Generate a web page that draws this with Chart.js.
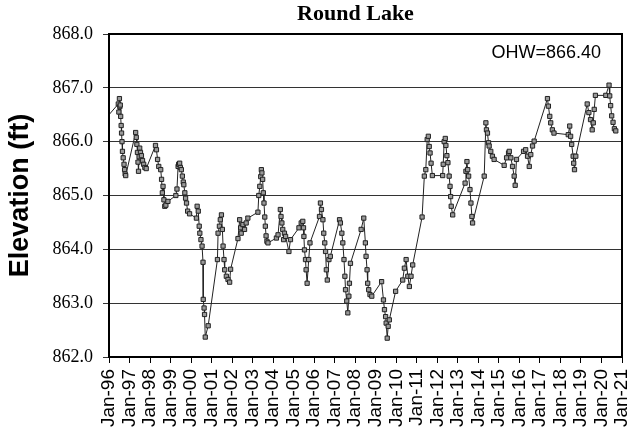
<!DOCTYPE html>
<html>
<head>
<meta charset="utf-8">
<script src="https://cdn.jsdelivr.net/npm/chart.js@4.4.1/dist/chart.umd.min.js"></script>
<style>
  html, body { margin: 0; padding: 0; background: #fff; }
  #wrap { width: 635px; height: 436px; position: relative; }
</style>
</head>
<body>
<div id="wrap"><canvas id="lake"></canvas></div>
<script>
const dates = [
  '1995-10-01',
  '1996-06-15','1996-06-25','1996-07-05','1996-07-12','1996-07-20','1996-07-27','1996-08-05','1996-08-12',
  '1996-08-20','1996-08-28','1996-09-10','1996-09-25','1996-10-05','1996-10-15','1996-10-25',
  '1997-04-20','1997-05-01','1997-05-12','1997-05-22','1997-06-01','1997-06-10','1997-06-20','1997-07-01',
  '1997-07-15','1997-08-01','1997-08-20','1997-09-10','1997-10-01','1997-10-25',
  '1998-04-08','1998-04-25','1998-05-15','1998-06-05','1998-07-10','1998-07-25','1998-08-08','1998-08-20',
  '1998-09-05','1998-09-20','1998-10-10','1998-11-15',
  '1999-04-05','1999-04-25','1999-05-15','1999-05-25','1999-06-12','1999-06-25','1999-07-12','1999-07-30',
  '1999-08-15','1999-08-25','1999-09-12','1999-09-25','1999-10-12','1999-11-01','1999-12-05',
  '2000-04-05','2000-04-18','2000-05-08','2000-05-25','2000-06-05','2000-06-25','2000-07-15','2000-08-01',
  '2000-08-05','2000-08-20','2000-08-28','2000-09-10','2000-11-01',
  '2001-04-15','2001-04-26','2001-05-20','2001-06-05','2001-06-25','2001-07-12','2001-07-24','2001-08-10',
  '2001-08-22','2001-09-20','2001-10-20','2001-11-18','2001-12-05',
  '2002-04-15','2002-05-15','2002-06-01','2002-06-12','2002-07-12','2002-08-10','2002-09-08','2002-10-08',
  '2003-04-05','2003-04-20','2003-05-08','2003-05-25','2003-06-05','2003-06-15','2003-06-28','2003-07-10',
  '2003-07-22','2003-08-05','2003-08-15','2003-08-28','2003-09-12','2003-10-01',
  '2004-02-28','2004-03-28','2004-05-08','2004-05-20','2004-06-05','2004-06-20','2004-07-05','2004-07-20',
  '2004-08-10','2004-10-08','2004-11-05',
  '2005-04-05','2005-05-15','2005-06-12','2005-06-25','2005-07-02','2005-07-12','2005-07-30','2005-08-10',
  '2005-08-28','2005-09-25','2005-10-18',
  '2006-04-05','2006-04-22','2006-05-10','2006-06-05','2006-06-20','2006-07-08','2006-07-22','2006-08-05',
  '2006-08-22','2006-09-20','2006-10-15',
  '2007-03-28','2007-04-12','2007-05-08','2007-05-25','2007-06-15','2007-07-01','2007-07-12','2007-08-03',
  '2007-08-22','2007-09-10','2007-09-20','2007-10-08',
  '2008-04-15','2008-06-01','2008-06-30','2008-07-12','2008-07-30','2008-08-10','2008-08-28','2008-09-20',
  '2008-10-22',
  '2009-04-15','2009-05-18','2009-06-05','2009-06-25','2009-07-05','2009-07-24','2009-08-10','2009-08-30',
  '2009-12-20',
  '2010-04-25','2010-05-25','2010-06-25','2010-07-25','2010-08-22','2010-09-20','2010-10-20',
  '2011-04-05','2011-05-15','2011-06-10','2011-07-05','2011-07-25','2011-08-10','2011-08-25','2011-09-12',
  '2011-10-05',
  '2012-04-05','2012-04-15','2012-05-02','2012-05-22','2012-06-02','2012-06-20','2012-07-08','2012-07-30',
  '2012-08-15','2012-08-25','2012-09-05','2012-10-01',
  '2013-05-10','2013-05-25','2013-06-12','2013-06-25','2013-07-12','2013-08-05','2013-08-22','2013-09-08',
  '2013-09-20',
  '2014-04-15','2014-05-15','2014-05-25','2014-06-12','2014-07-01','2014-07-12','2014-08-10','2014-09-08',
  '2014-10-08',
  '2015-04-05','2015-05-18','2015-06-22','2015-07-05','2015-08-02','2015-09-01','2015-09-30','2015-10-18',
  '2015-11-10',
  '2016-03-15','2016-04-22','2016-05-25','2016-06-25','2016-07-22','2016-08-22','2016-09-20',
  '2017-05-15','2017-06-01','2017-06-25','2017-07-12','2017-08-10','2017-09-08',
  '2018-05-20','2018-06-15','2018-07-01','2018-07-20','2018-08-15','2018-08-25','2018-09-08','2018-10-01',
  '2019-04-22','2019-05-22','2019-06-20','2019-07-20','2019-08-08','2019-08-25','2019-09-15',
  '2020-03-18','2020-05-15','2020-05-27','2020-06-12','2020-07-01','2020-07-25','2020-08-18','2020-09-12'
];

const elevations = [
  866.39,
  866.70,866.55,866.80,866.65,866.68,866.47,866.30,866.16,
  866.00,865.82,865.70,865.58,865.48,865.40,865.37,
  866.17,866.08,865.95,865.80,865.62,865.45,865.72,865.88,
  865.80,865.74,865.65,865.58,865.52,865.50,
  865.93,865.85,865.67,865.54,865.48,865.30,865.05,865.17,
  864.92,864.80,864.82,864.89,
  865.00,865.12,865.54,865.58,865.60,865.52,865.48,865.36,
  865.25,865.20,865.05,864.95,864.86,864.71,864.66,
  864.58,864.80,864.71,864.43,864.30,864.18,864.06,863.76,
  863.07,862.91,862.79,862.37,862.58,
  863.81,864.30,864.43,864.55,864.64,864.37,864.06,863.81,
  863.62,863.50,863.44,863.39,863.63,
  864.20,864.55,864.40,864.30,864.46,864.37,864.49,864.58,
  864.69,865.00,865.17,865.35,865.48,865.42,865.30,865.05,
  864.86,864.60,864.43,864.25,864.15,864.12,
  864.21,864.27,864.74,864.61,864.49,864.37,864.18,864.30,
  864.24,863.96,864.18,
  864.40,864.49,864.52,864.40,864.24,863.99,863.81,863.62,
  863.37,863.81,864.12,
  864.61,864.86,864.74,864.55,864.30,864.12,863.96,863.62,
  863.43,863.81,863.87,
  864.55,864.49,864.30,864.12,863.81,863.50,863.25,863.04,
  862.82,863.13,863.37,863.74,
  864.37,864.58,864.12,863.87,863.62,863.37,863.25,863.16,
  863.13,
  863.40,863.06,862.88,862.75,862.63,862.35,862.57,862.69,
  863.22,
  863.43,863.65,863.81,863.50,863.31,863.50,863.71,
  864.60,865.36,865.48,866.04,866.10,865.91,865.79,865.60,
  865.37,
  865.37,865.58,866.00,866.06,865.93,865.74,865.61,865.36,
  865.17,864.98,864.80,864.64,
  865.23,865.45,865.63,865.48,865.36,865.11,864.86,864.61,
  864.49,
  865.36,866.35,866.22,866.16,865.98,865.92,865.82,865.73,
  865.67,
  865.56,865.70,865.79,865.82,865.70,865.54,865.36,865.19,
  865.67,
  865.82,865.85,865.73,865.54,865.76,865.92,866.01,
  866.80,866.66,866.47,866.35,866.22,866.16,
  866.13,866.29,866.10,865.95,865.73,865.60,865.48,865.73,
  866.70,866.54,866.41,866.22,866.35,866.60,866.86,
  866.86,867.05,866.85,866.67,866.48,866.36,866.24,866.20
];

const tickLabels = [
  'Jan-96','Jan-97','Jan-98','Jan-99','Jan-00','Jan-01','Jan-02','Jan-03','Jan-04',
  'Jan-05','Jan-06','Jan-07','Jan-08','Jan-09','Jan-10','Jan-11','Jan-12','Jan-13',
  'Jan-14','Jan-15','Jan-16','Jan-17','Jan-18','Jan-19','Jan-20','Jan-21'
];
const chartTitle = 'Round Lake';
const ohwLabel = 'OHW=866.40';

// date string -> fractional year, so the linear axis can place it
function toYear(s) {
  const d = new Date(s + 'T00:00:00Z');
  const y = d.getUTCFullYear();
  const start = Date.UTC(y, 0, 1), end = Date.UTC(y + 1, 0, 1);
  return y + (d.getTime() - start) / (end - start);
}

const points = dates.map((d, i) => ({ x: toYear(d), y: elevations[i] }));

// title, box around the plot and the OHW note in the upper right
const framePlugin = {
  id: 'frame',
  afterDraw(chart) {
    const { ctx, chartArea: a } = chart;
    ctx.save();
    ctx.strokeStyle = '#000';
    ctx.lineWidth = 2;
    ctx.strokeRect(a.left, a.top, a.right - a.left, a.bottom - a.top);
    ctx.fillStyle = '#000';
    ctx.textBaseline = 'middle';
    ctx.textAlign = 'center';
    ctx.font = 'bold 22px "Liberation Serif", "Times New Roman", serif';
    ctx.fillText(chartTitle, (a.left + a.right) / 2 - 10, 14);
    ctx.font = '18px "Liberation Sans", Arial, sans-serif';
    ctx.textAlign = 'right';
    ctx.textBaseline = 'alphabetic';
    ctx.fillText(ohwLabel, a.right - 21, a.top + 24);
    ctx.restore();
  }
};

new Chart(document.getElementById('lake'), {
  type: 'line',
  data: {
    datasets: [{
      data: points,
      borderColor: '#222',
      borderWidth: 1,
      pointStyle: 'rect',
      pointRadius: 3,
      pointBorderWidth: 1,
      pointBorderColor: '#222',
      pointBackgroundColor: '#999',
      tension: 0
    }]
  },
  options: {
    responsive: true,
    maintainAspectRatio: false,
    animation: false,
    layout: { padding: { right: 0, left: 0, top: 34, bottom: 0 } },
    plugins: {
      legend: { display: false },
      tooltip: { enabled: false },
      title: { display: false }
    },
    scales: {
      x: {
        type: 'linear',
        min: 1996,
        max: 2021,
        afterFit(scale) {
          scale.height = 79;
          scale.paddingRight = 13;
          scale.paddingLeft = 0;
        },
        border: { color: '#000', width: 2 },
        grid: { drawOnChartArea: false, color: '#000', tickLength: 6 },
        ticks: {
          stepSize: 1,
          autoSkip: false,
          maxRotation: 90,
          minRotation: 90,
          padding: 6,
          color: '#000',
          font: { family: '"Liberation Sans", Arial, sans-serif', size: 19 },
          callback: (v) => tickLabels[Math.round(v - 1996)]
        }
      },
      y: {
        min: 862,
        max: 868,
        afterFit(scale) { scale.width = 109; },
        border: { color: '#000', width: 2 },
        grid: { color: '#333', tickLength: 6 },
        title: {
          display: true,
          text: 'Elevation (ft)',
          color: '#000',
          font: { family: '"Liberation Sans", Arial, sans-serif', size: 27, weight: 'bold' },
          padding: { top: 4, bottom: 0 }
        },
        ticks: {
          stepSize: 1,
          padding: 10,
          color: '#000',
          font: { family: '"Liberation Serif", "Times New Roman", serif', size: 18 },
          callback: (v) => v.toFixed(1)
        }
      }
    }
  },
  plugins: [framePlugin]
});
</script>
</body>
</html>
